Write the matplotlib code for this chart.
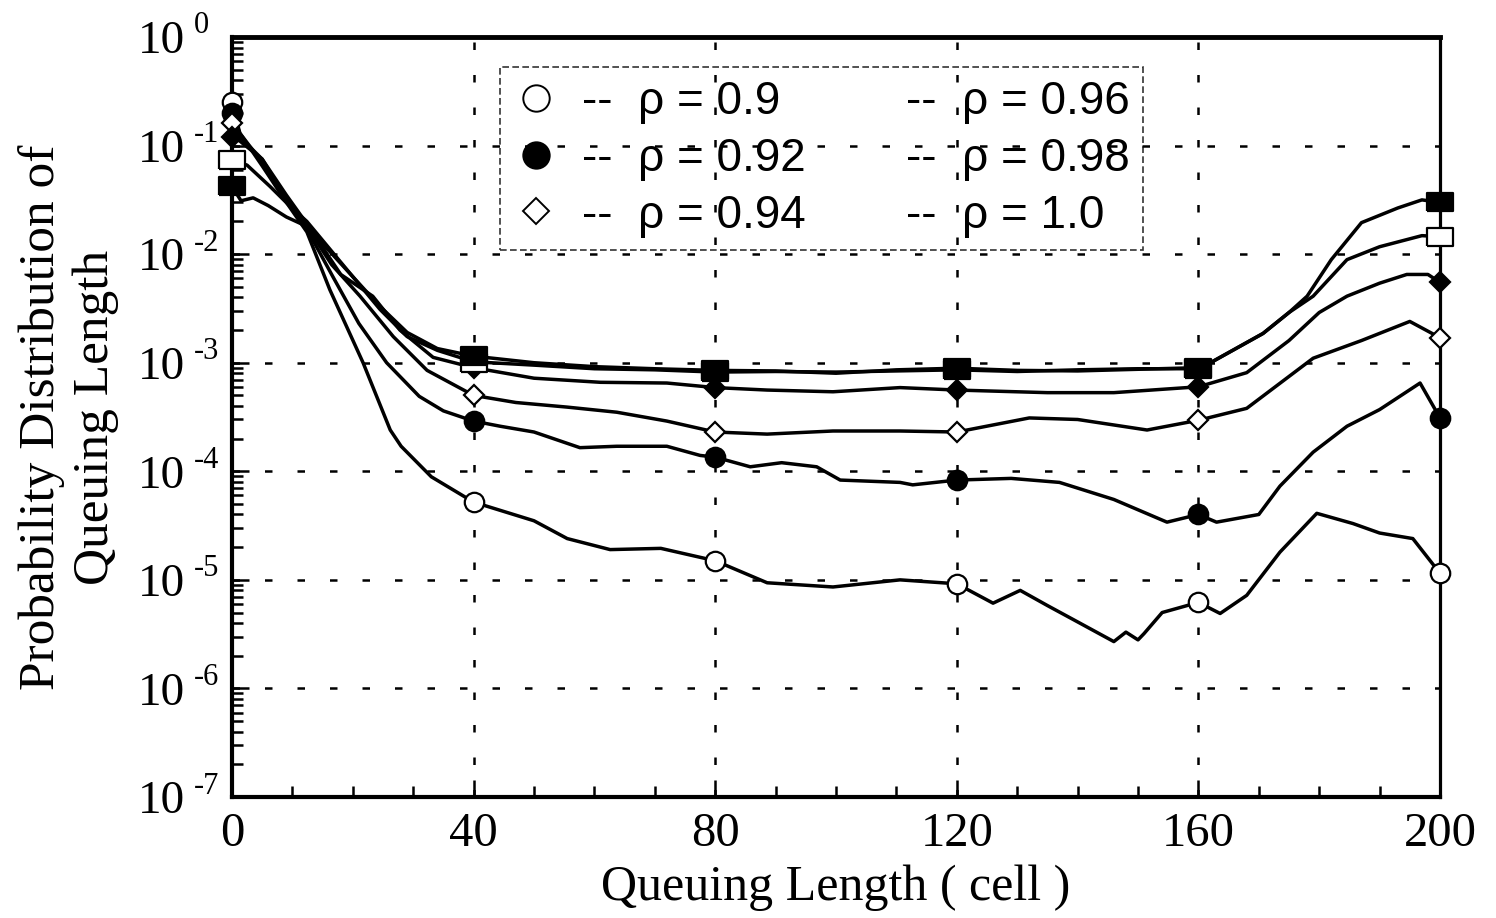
import matplotlib
matplotlib.use('Agg')
import matplotlib.pyplot as plt
from matplotlib.lines import Line2D
from matplotlib.ticker import FixedLocator, LogLocator, MultipleLocator, NullFormatter

plt.rcParams['font.family'] = 'Liberation Serif'

# ---- values ----
rho_labels = ['0.9', '0.92', '0.94', '0.96', '0.98', '1.0']
mark_x = [0, 40, 80, 120, 160, 200]
decades = [-7, -6, -5, -4, -3, -2, -1, 0]

x_090 = [0, 1.3, 5, 9, 12.4, 16.2, 21.7, 26.2, 28, 33, 40, 50, 55.5, 62.6, 71, 80, 88.6,
         99.5, 110.6, 120, 126, 130.5, 135, 140, 146, 148, 150, 151, 154, 160, 163.6,
         168, 173.5, 179.6, 185.6, 190, 195.5, 200]
p_090 = [0.25, 0.13, 0.065, 0.03, 0.016, 4.7e-3, 1.0e-3, 2.4e-4, 1.7e-4, 8.9e-5, 5.2e-5,
         3.5e-5, 2.4e-5, 1.9e-5, 1.95e-5, 1.5e-5, 9.4e-6, 8.6e-6, 1.0e-5, 9.2e-6, 6.1e-6,
         8.0e-6, 5.8e-6, 4.1e-6, 2.7e-6, 3.3e-6, 2.8e-6, 3.2e-6, 5.0e-6, 6.2e-6, 4.9e-6,
         7.2e-6, 1.8e-5, 4.1e-5, 3.3e-5, 2.7e-5, 2.4e-5, 1.15e-5]

x_092 = [0, 1.3, 5, 9, 12.4, 16.7, 21, 25.6, 31, 35, 40, 44.4, 50, 57.6, 63.7, 72, 77.5,
         80, 85.8, 91, 96.8, 100.7, 110.6, 112.7, 120, 129, 137, 146, 154.8, 160, 163,
         170, 173.5, 179, 184.6, 190, 196.7, 200]
p_092 = [0.20, 0.13, 0.07, 0.031, 0.017, 6.2e-3, 2.3e-3, 1.0e-3, 4.9e-4, 3.6e-4, 2.9e-4,
         2.6e-4, 2.3e-4, 1.65e-4, 1.7e-4, 1.7e-4, 1.4e-4, 1.35e-4, 1.1e-4, 1.2e-4, 1.1e-4,
         8.3e-5, 7.9e-5, 7.5e-5, 8.3e-5, 8.6e-5, 7.9e-5, 5.5e-5, 3.4e-5, 4.0e-5, 3.4e-5,
         4.0e-5, 7.3e-5, 1.5e-4, 2.6e-4, 3.7e-4, 6.5e-4, 3.1e-4]

x_094 = [0, 1.3, 5, 9, 12.4, 16.5, 21.2, 26.7, 32.3, 40, 47, 55.5, 63.7, 72, 80, 88.6,
         99.5, 110.6, 120, 132, 140, 151.5, 160, 168, 179, 187, 195, 200]
p_094 = [0.16, 0.12, 0.075, 0.032, 0.018, 8.0e-3, 4.1e-3, 1.74e-3, 8.5e-4, 5.0e-4,
         4.3e-4, 3.9e-4, 3.5e-4, 2.9e-4, 2.3e-4, 2.2e-4, 2.35e-4, 2.35e-4, 2.3e-4,
         3.1e-4, 3.0e-4, 2.4e-4, 2.95e-4, 3.8e-4, 1.1e-3, 1.6e-3, 2.4e-3, 1.7e-3]

x_096 = [0, 1.3, 5, 9, 12.4, 18, 23.3, 27.8, 33.3, 40, 50, 61, 72, 80, 88.6, 99.5,
         110.6, 120, 135, 146, 160, 168, 175, 180, 184.6, 190, 194.5, 198, 200]
p_096 = [0.12, 0.11, 0.075, 0.035, 0.019, 6.5e-3, 4.1e-3, 2.0e-3, 1.12e-3, 9.0e-4,
         7.2e-4, 6.6e-4, 6.5e-4, 5.9e-4, 5.6e-4, 5.4e-4, 5.9e-4, 5.6e-4, 5.3e-4, 5.3e-4,
         6.0e-4, 8.1e-4, 1.6e-3, 2.9e-3, 4.1e-3, 5.4e-3, 6.5e-3, 6.5e-3, 5.5e-3]

x_098 = [0, 2.5, 6.3, 9.5, 12.4, 20, 24.5, 29, 34, 40, 50, 60, 70, 80, 90, 100, 110,
         120, 130, 140, 150, 160, 162, 170.7, 175, 179, 184.6, 190, 197, 200]
p_098 = [0.074, 0.066, 0.042, 0.028, 0.020, 6.2e-3, 3.1e-3, 1.74e-3, 1.3e-3, 1.02e-3,
         9.5e-4, 8.8e-4, 8.6e-4, 8.2e-4, 8.3e-4, 8.2e-4, 8.4e-4, 8.6e-4, 8.3e-4, 8.6e-4,
         8.8e-4, 8.8e-4, 1.0e-3, 1.86e-3, 2.9e-3, 4.1e-3, 8.9e-3, 1.17e-2, 1.48e-2, 1.45e-2]

x_100 = [0, 1.5, 3.5, 6, 9, 12.4, 20, 24.5, 29, 34, 40, 50, 60, 70, 80, 90, 100, 110,
         120, 130, 140, 150, 160, 162, 170.7, 175, 178, 182, 187, 193, 197, 200]
p_100 = [0.042, 0.031, 0.033, 0.028, 0.022, 0.018, 6.2e-3, 3.3e-3, 1.9e-3, 1.35e-3,
         1.15e-3, 1.0e-3, 9.2e-4, 8.8e-4, 8.5e-4, 8.4e-4, 8.0e-4, 8.6e-4, 8.9e-4, 8.5e-4,
         8.4e-4, 8.7e-4, 9.0e-4, 1.0e-3, 1.86e-3, 2.9e-3, 4.1e-3, 8.9e-3, 1.95e-2,
         2.66e-2, 3.16e-2, 3.0e-2]

m_090 = [0.25, 5.2e-5, 1.5e-5, 9.2e-6, 6.2e-6, 1.15e-5]
m_092 = [0.20, 2.9e-4, 1.35e-4, 8.3e-5, 4.0e-5, 3.1e-4]
m_094 = [0.16, 5.0e-4, 2.3e-4, 2.3e-4, 2.95e-4, 1.7e-3]
m_096 = [0.12, 9.0e-4, 5.9e-4, 5.6e-4, 6.0e-4, 5.5e-3]
m_098 = [0.074, 1.0e-3, 8.2e-4, 8.6e-4, 8.8e-4, 1.45e-2]
m_100 = [0.042, 1.15e-3, 8.5e-4, 8.9e-4, 9.0e-4, 3.0e-2]

xs = [x_090, x_092, x_094, x_096, x_098, x_100]
ps = [p_090, p_092, p_094, p_096, p_098, p_100]
ms = [m_090, m_092, m_094, m_096, m_098, m_100]

# flat rectangle used for the square markers
rect = [(-1.3, -0.9), (1.3, -0.9), (1.3, 0.9), (-1.3, 0.9), (-1.3, -0.9)]
styles = [('o', 'white', 14), ('o', 'black', 14), ('D', 'white', 10),
          ('D', 'black', 10), (rect, 'white', 19), (rect, 'black', 19)]

fig = plt.figure(figsize=(14.96, 9.18), dpi=100)
ax = fig.add_axes([232 / 1496, 1 - 797 / 918, 1208 / 1496, 760 / 918])

for x, p, m, (mk, fc, sz) in zip(xs, ps, ms, styles):
    ax.plot(x, p, color='black', lw=2.5, zorder=3)
    ax.plot(mark_x, m, linestyle='none', marker=mk, markersize=sz, markerfacecolor=fc,
            markeredgecolor='black', markeredgewidth=1.6, zorder=4, clip_on=False)

ax.set_yscale('log')
ax.set_xlim(0, 200)
ax.set_ylim(1e-7, 1)

ax.xaxis.set_major_locator(FixedLocator(mark_x))
ax.xaxis.set_minor_locator(MultipleLocator(10))
ax.set_yticks([10.0 ** e for e in decades])
ax.yaxis.set_minor_locator(LogLocator(base=10, subs=range(2, 10), numticks=20))
ax.yaxis.set_minor_formatter(NullFormatter())
ax.set_yticklabels([])
ax.set_xticklabels([str(v) for v in mark_x])

# "10" plus a small raised exponent, like the scanned labels
pt = 0.72
for e in decades:
    ax.annotate('10', xy=(0, 10.0 ** e), xycoords=('axes fraction', 'data'),
                xytext=(-47 * pt, -5 * pt), textcoords='offset points',
                ha='right', va='center', fontsize=34, annotation_clip=False)
    ax.annotate(str(e), xy=(0, 10.0 ** e), xycoords=('axes fraction', 'data'),
                xytext=(-38 * pt, 11 * pt), textcoords='offset points',
                ha='left', va='center', fontsize=22, annotation_clip=False)

ax.tick_params(axis='both', which='both', direction='in', top=False, right=False,
               width=1.8)
ax.tick_params(axis='both', which='major', length=12)
ax.tick_params(axis='both', which='minor', length=8)
ax.tick_params(axis='x', pad=11, labelsize=35)

for side in ['left', 'bottom']:
    ax.spines[side].set_linewidth(3)
ax.spines['top'].set_linewidth(3.5)
ax.spines['right'].set_linewidth(2.3)

ax.grid(True, which='major', color='black', linestyle=(0, (3, 10)), linewidth=1.8)

ax.set_xlabel('Queuing Length ( cell )', fontsize=36, labelpad=6)
ax.set_ylabel('Probability Distribution of\nQueuing Length', fontsize=37, labelpad=78)

# legend: markers only shown for the first column, as in the original
handles = []
for i, (mk, fc, sz) in enumerate(styles):
    if i < 3:
        big = 19 if mk == 'o' else 13
        handles.append(Line2D([], [], linestyle='none', marker=mk, markersize=big,
                              markerfacecolor=fc, markeredgecolor='black',
                              markeredgewidth=1.4))
    else:
        handles.append(Line2D([], [], linestyle='none'))
labels = ['--  \u03c1 = ' + r for r in rho_labels]
leg = ax.legend(handles, labels, ncol=2, loc='upper left',
                bbox_to_anchor=(268 / 1208, (797 - 67) / 760), borderaxespad=0,
                prop={'family': 'Liberation Sans', 'size': 33},
                handlelength=1.0, handletextpad=0.5, columnspacing=0.7,
                labelspacing=0.28, borderpad=0.28, fancybox=False,
                facecolor='none', edgecolor='black')
leg.get_frame().set_linewidth(1.2)
leg.get_frame().set_linestyle((0, (4, 2)))

fig.savefig('out.png', dpi=100)
